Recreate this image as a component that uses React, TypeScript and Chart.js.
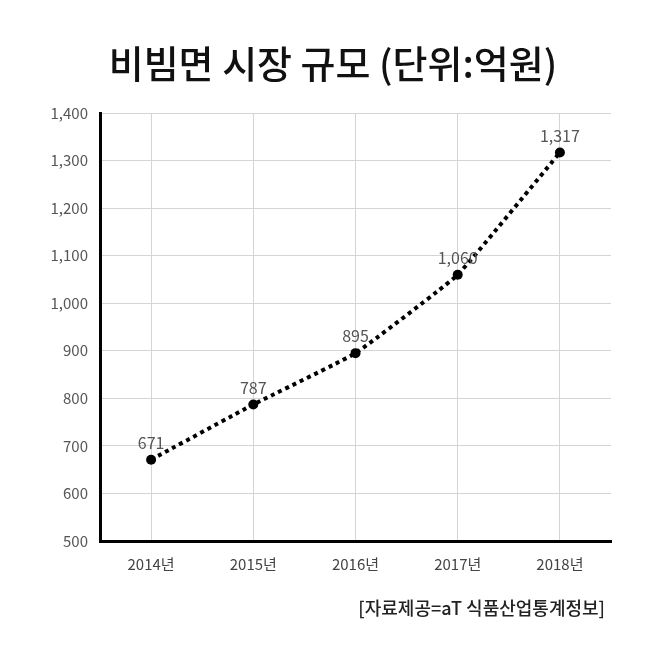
import React, { useEffect, useRef } from "react";
import { Chart, registerables } from "chart.js";

Chart.register(...registerables);

const TITLE = "비빔면 시장 규모 (단위:억원)";
const SOURCE = "[자료제공=aT 식품산업통계정보]";
const YEARS = ["2014년", "2015년", "2016년", "2017년", "2018년"];
const MARKET_SIZE = [671, 787, 895, 1060, 1317];
const Y_MIN = 500;
const Y_MAX = 1400;
const Y_STEP = 100;

const FONT = "'Noto Sans CJK KR', 'Noto Sans', sans-serif";

const textPlugin = {
  id: "textPlugin",
  afterDatasetsDraw(chart: any) {
    const ctx = chart.ctx;
    const meta = chart.getDatasetMeta(0);
    ctx.save();
    ctx.font = `400 16px ${FONT}`;
    ctx.fillStyle = "#555555";
    ctx.textAlign = "center";
    ctx.textBaseline = "middle";
    meta.data.forEach((pt: any, i: number) => {
      ctx.fillText(MARKET_SIZE[i].toLocaleString("en-US"), pt.x, pt.y - 17);
    });
    ctx.restore();
  },
  afterDraw(chart: any) {
    const ctx = chart.ctx;
    ctx.save();
    ctx.fillStyle = "#111111";
    ctx.textBaseline = "middle";
    ctx.textAlign = "center";
    ctx.font = `500 38px ${FONT}`;
    ctx.fillText(TITLE, 333, 64);
    ctx.textAlign = "right";
    ctx.font = `500 18px ${FONT}`;
    ctx.fillStyle = "#222222";
    ctx.fillText(SOURCE, 605, 608);
    ctx.restore();
  },
};

export default function App() {
  const ref = useRef<HTMLCanvasElement>(null);
  useEffect(() => {
    document.body.style.margin = "0";
    const chart = new Chart(ref.current!, {
      type: "line",
      data: {
        labels: YEARS,
        datasets: [
          {
            data: MARKET_SIZE,
            borderColor: "#000000",
            backgroundColor: "#000000",
            borderWidth: 4,
            borderDash: [4, 4],
            pointRadius: 5,
            pointHoverRadius: 5,
            pointBackgroundColor: "#000000",
            pointBorderWidth: 0,
            tension: 0.1,
            fill: false,
          },
        ],
      },
      options: {
        animation: false,
        responsive: false,
        maintainAspectRatio: false,
        layout: { padding: { top: 113, right: 47, bottom: 0, left: 0 } },
        plugins: {
          legend: { display: false },
          title: { display: false },
          tooltip: { enabled: false },
        },
        scales: {
          x: {
            offset: true,
            grid: { offset: false, color: "#d4d4d4", lineWidth: 1, drawTicks: false },
            border: { color: "#000000", width: 3 },
            ticks: { color: "#444444", font: { family: FONT, size: 15 }, padding: 14 },
            afterFit(scale: any) {
              scale.height = 117;
            },
          },
          y: {
            min: Y_MIN,
            max: Y_MAX,
            grid: { color: "#d4d4d4", lineWidth: 1, drawTicks: false },
            border: { color: "#000000", width: 3 },
            ticks: {
              stepSize: Y_STEP,
              color: "#555555",
              font: { family: FONT, size: 15 },
              padding: 12,
              callback: (v: any) => Number(v).toLocaleString("en-US"),
            },
            afterFit(scale: any) {
              scale.width = 100;
            },
          },
        },
      },
      plugins: [textPlugin],
    });
    return () => chart.destroy();
  }, []);
  return <canvas ref={ref} width={658} height={658} style={{ display: "block" }} />;
}
